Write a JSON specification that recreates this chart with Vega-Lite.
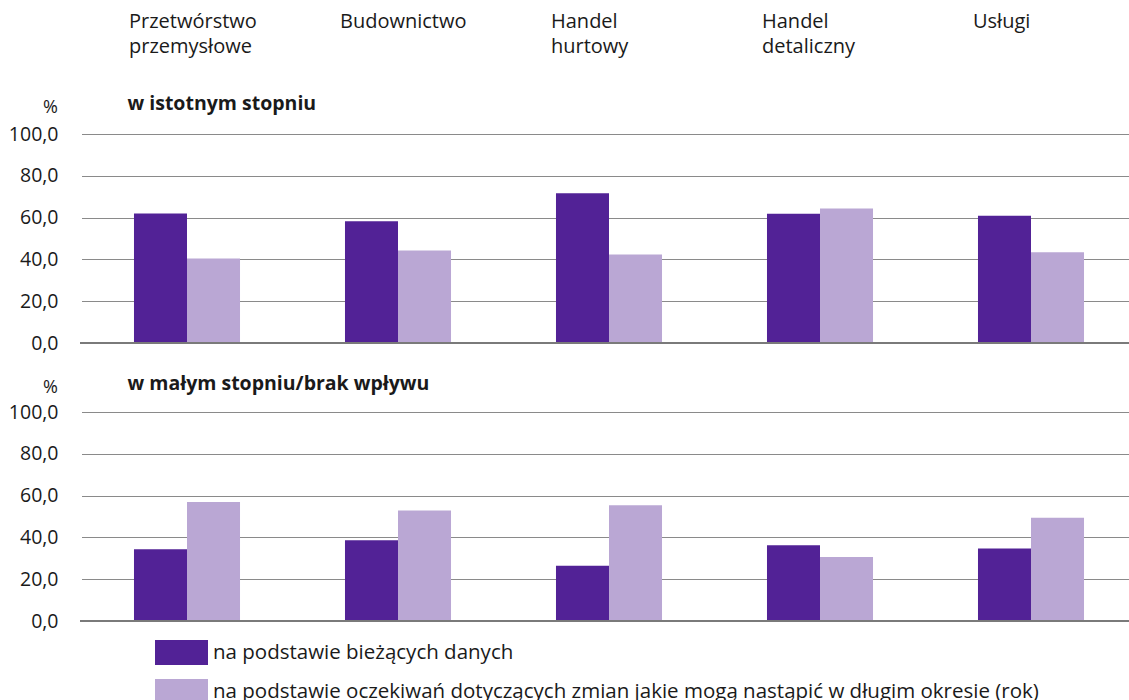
{
  "$schema": "https://vega.github.io/schema/vega-lite/v6.json",
  "padding": {"left": 8, "top": 11, "right": 0, "bottom": 0},
  "background": "white",
  "datasets": {
    "d": [
      {"panel": "w istotnym stopniu", "category": "Przetwórstwo przemysłowe", "series": "na podstawie bieżących danych", "value": 62.0},
      {"panel": "w istotnym stopniu", "category": "Przetwórstwo przemysłowe", "series": "na podstawie oczekiwań dotyczących zmian jakie mogą nastąpić w długim okresie (rok)", "value": 40.4},
      {"panel": "w istotnym stopniu", "category": "Budownictwo", "series": "na podstawie bieżących danych", "value": 58.2},
      {"panel": "w istotnym stopniu", "category": "Budownictwo", "series": "na podstawie oczekiwań dotyczących zmian jakie mogą nastąpić w długim okresie (rok)", "value": 44.3},
      {"panel": "w istotnym stopniu", "category": "Handel hurtowy", "series": "na podstawie bieżących danych", "value": 71.7},
      {"panel": "w istotnym stopniu", "category": "Handel hurtowy", "series": "na podstawie oczekiwań dotyczących zmian jakie mogą nastąpić w długim okresie (rok)", "value": 42.3},
      {"panel": "w istotnym stopniu", "category": "Handel detaliczny", "series": "na podstawie bieżących danych", "value": 61.9},
      {"panel": "w istotnym stopniu", "category": "Handel detaliczny", "series": "na podstawie oczekiwań dotyczących zmian jakie mogą nastąpić w długim okresie (rok)", "value": 64.4},
      {"panel": "w istotnym stopniu", "category": "Usługi", "series": "na podstawie bieżących danych", "value": 60.9},
      {"panel": "w istotnym stopniu", "category": "Usługi", "series": "na podstawie oczekiwań dotyczących zmian jakie mogą nastąpić w długim okresie (rok)", "value": 43.4}
    ],
    "e": [
      {"panel": "w małym stopniu/brak wpływu", "category": "Przetwórstwo przemysłowe", "series": "na podstawie bieżących danych", "value": 34.3},
      {"panel": "w małym stopniu/brak wpływu", "category": "Przetwórstwo przemysłowe", "series": "na podstawie oczekiwań dotyczących zmian jakie mogą nastąpić w długim okresie (rok)", "value": 56.9},
      {"panel": "w małym stopniu/brak wpływu", "category": "Budownictwo", "series": "na podstawie bieżących danych", "value": 38.6},
      {"panel": "w małym stopniu/brak wpływu", "category": "Budownictwo", "series": "na podstawie oczekiwań dotyczących zmian jakie mogą nastąpić w długim okresie (rok)", "value": 52.9},
      {"panel": "w małym stopniu/brak wpływu", "category": "Handel hurtowy", "series": "na podstawie bieżących danych", "value": 26.4},
      {"panel": "w małym stopniu/brak wpływu", "category": "Handel hurtowy", "series": "na podstawie oczekiwań dotyczących zmian jakie mogą nastąpić w długim okresie (rok)", "value": 55.4},
      {"panel": "w małym stopniu/brak wpływu", "category": "Handel detaliczny", "series": "na podstawie bieżących danych", "value": 36.2},
      {"panel": "w małym stopniu/brak wpływu", "category": "Handel detaliczny", "series": "na podstawie oczekiwań dotyczących zmian jakie mogą nastąpić w długim okresie (rok)", "value": 30.6},
      {"panel": "w małym stopniu/brak wpływu", "category": "Usługi", "series": "na podstawie bieżących danych", "value": 34.7},
      {"panel": "w małym stopniu/brak wpływu", "category": "Usługi", "series": "na podstawie oczekiwań dotyczących zmian jakie mogą nastąpić w długim okresie (rok)", "value": 49.4}
    ]
  },
  "config": {
    "font": "Open Sans",
    "view": {"stroke": null},
    "axis": {"labelFont": "Open Sans", "titleFont": "Open Sans", "labelColor": "#1a1a1a", "titleColor": "#1a1a1a"}
  },
  "bounds": "flush",
  "spacing": 69,
  "vconcat": [
    {
      "width": 1049,
      "height": 209,
      "data": {"name": "d"},
      "layer": [
        {
          "mark": {"type": "bar"},
          "encoding": {
            "x": {
              "field": "category", "type": "nominal", "sort": null,
              "scale": {"paddingInner": 0, "paddingOuter": 0, "range": [1.5, 1056.5]},
              "axis": {
                "orient": "top", "title": "w istotnym stopniu",
                "titleX": 47, "titleY": -31, "titleAlign": "left", "titleBaseline": "middle", "titleAnchor": "start",
                "titleFontSize": 19.5, "titleFontWeight": "bold",
                "labelExpr": "split(datum.label, ' ')",
                "labelAlign": "left", "labelBaseline": "top", "labelOffset": -58, "labelAngle": 0,
                "labelPadding": 123, "labelFontSize": 20, "labelLineHeight": 25,
                "ticks": false, "domain": false, "grid": false
              }
            },
            "xOffset": {"field": "series", "type": "nominal", "sort": null, "scale": {"paddingInner": 0, "paddingOuter": 0.99}},
            "y": {
              "field": "value", "type": "quantitative",
              "scale": {"domain": [0, 100], "nice": false},
              "axis": {
                "values": [0, 20, 40, 60, 80, 100], "format": ".1f", "labelExpr": "replace(datum.label, '.', ',')",
                "title": "%", "titleAngle": 0, "titleX": -30, "titleY": -27, "titleAlign": "center", "titleBaseline": "middle",
                "titleFontSize": 18, "titleFontWeight": "normal",
                "labelFontSize": 19.5, "labelPadding": 22, "ticks": false, "domain": false,
                "grid": true, "gridColor": "#8a8a8a", "gridWidth": 1.2
              }
            },
            "color": {
              "field": "series", "type": "nominal", "sort": null,
              "scale": {"range": ["#522296", "#baa7d4"]},
              "legend": {
                "orient": "none", "legendX": 75, "legendY": 492, "title": null,
                "symbolType": "M-1,-0.47H1V0.47H-1Z", "symbolSize": 2809, "symbolStrokeWidth": 0,
                "labelFont": "Open Sans", "labelFontSize": 20.5, "labelColor": "#1a1a1a", "labelOffset": 5,
                "rowPadding": -4, "labelLimit": 1000, "direction": "vertical"
              }
            }
          }
        },
        {
          "mark": {"type": "rule", "color": "#7a7a7a", "strokeWidth": 2},
          "encoding": {"y": {"datum": 0}}
        }
      ]
    },
    {
      "width": 1049,
      "height": 209,
      "data": {"name": "e"},
      "layer": [
        {
          "mark": {"type": "bar"},
          "encoding": {
            "x": {
              "field": "category", "type": "nominal", "sort": null,
              "scale": {"paddingInner": 0, "paddingOuter": 0, "range": [1.5, 1056.5]},
              "axis": {
                "orient": "top", "title": "w małym stopniu/brak wpływu",
                "titleX": 47, "titleY": -29, "titleAlign": "left", "titleBaseline": "middle", "titleAnchor": "start",
                "titleFontSize": 19.5, "titleFontWeight": "bold",
                "labels": false, "ticks": false, "domain": false, "grid": false
              }
            },
            "xOffset": {"field": "series", "type": "nominal", "sort": null, "scale": {"paddingInner": 0, "paddingOuter": 0.99}},
            "y": {
              "field": "value", "type": "quantitative",
              "scale": {"domain": [0, 100], "nice": false},
              "axis": {
                "values": [0, 20, 40, 60, 80, 100], "format": ".1f", "labelExpr": "replace(datum.label, '.', ',')",
                "title": "%", "titleAngle": 0, "titleX": -30, "titleY": -25, "titleAlign": "center", "titleBaseline": "middle",
                "titleFontSize": 18, "titleFontWeight": "normal",
                "labelFontSize": 19.5, "labelPadding": 22, "ticks": false, "domain": false,
                "grid": true, "gridColor": "#8a8a8a", "gridWidth": 1.2
              }
            },
            "color": {"field": "series", "type": "nominal", "sort": null, "scale": {"range": ["#522296", "#baa7d4"]}}
          }
        },
        {
          "mark": {"type": "rule", "color": "#7a7a7a", "strokeWidth": 2},
          "encoding": {"y": {"datum": 0}}
        }
      ]
    }
  ]
}
